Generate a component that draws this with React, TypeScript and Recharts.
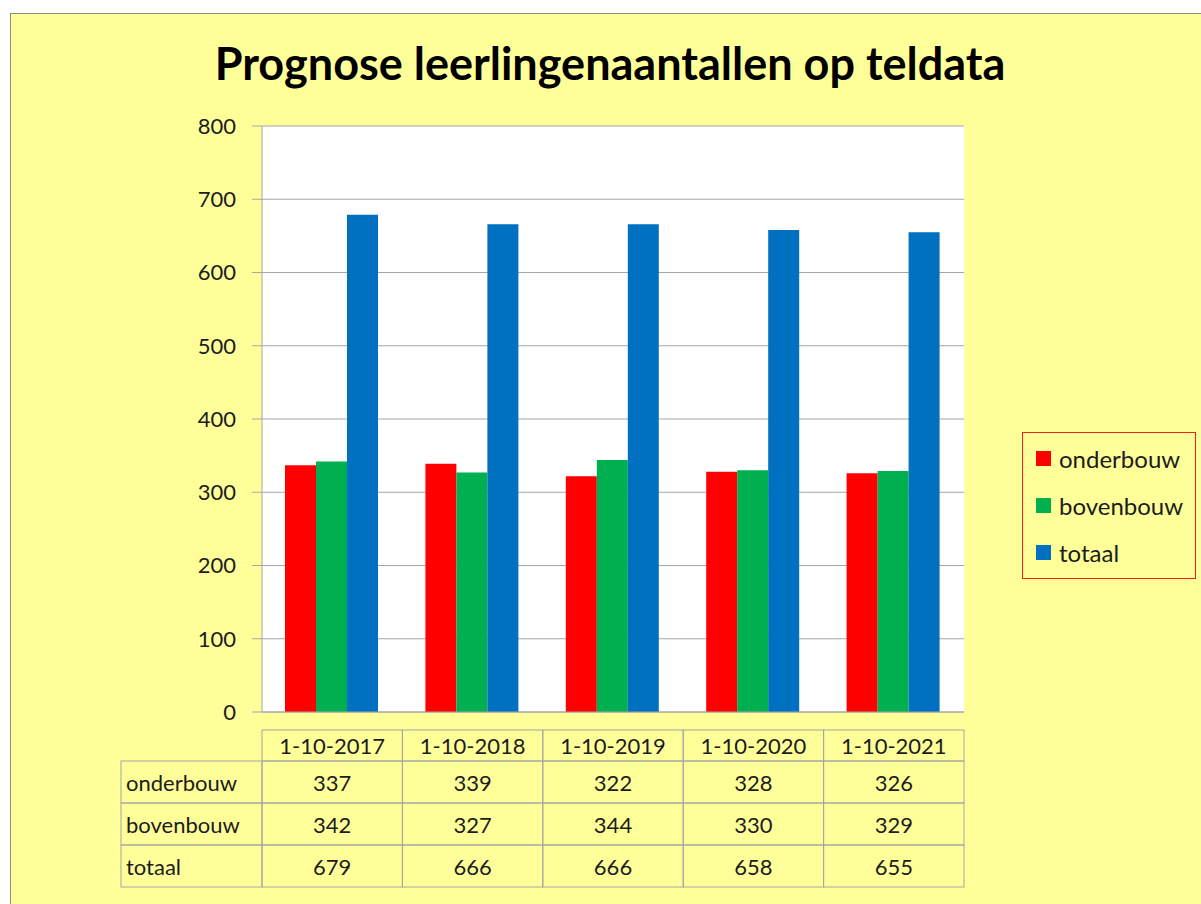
import React from 'react'
import { BarChart, Bar, XAxis, YAxis, CartesianGrid, Legend } from 'recharts'

const categories = ['1-10-2017', '1-10-2018', '1-10-2019', '1-10-2020', '1-10-2021']
const onderbouw = [337, 339, 322, 328, 326]
const bovenbouw = [342, 327, 344, 330, 329]
const totaal = [679, 666, 666, 658, 655]
const yTicks = [0, 100, 200, 300, 400, 500, 600, 700, 800]

const seriesList = [
  { key: 'onderbouw', values: onderbouw, color: '#FF0000' },
  { key: 'bovenbouw', values: bovenbouw, color: '#00B050' },
  { key: 'totaal', values: totaal, color: '#0070C0' },
]

const data = categories.map((date, i) => ({
  date,
  onderbouw: onderbouw[i],
  bovenbouw: bovenbouw[i],
  totaal: totaal[i],
}))

const W = 1201
const H = 904
const PLOT_LEFT = 262
const PLOT_RIGHT = 964
const PLOT_TOP = 126
const PLOT_BOTTOM = 712
const BAND = (PLOT_RIGHT - PLOT_LEFT) / categories.length
const TABLE_TOP = 730
const HEAD_H = 31
const ROW_H = 42
const LABEL_LEFT = 121
const FONT = 'Lato, "Open Sans", sans-serif'
const GRID = '#A6A6A6'
const TXT = '#1c1c1c'

// the x axis ticks draw the data table, one column per category
function TableTick(props: any) {
  const { x, payload } = props
  const i = payload.index
  const left = x - BAND / 2
  return (
    <g>
      {i === 0 &&
        seriesList.map((s, r) => (
          <g key={s.key}>
            <rect
              x={LABEL_LEFT}
              y={TABLE_TOP + HEAD_H + r * ROW_H}
              width={PLOT_LEFT - LABEL_LEFT}
              height={ROW_H}
              fill="none"
              stroke={GRID}
            />
            <text
              x={LABEL_LEFT + 5}
              y={TABLE_TOP + HEAD_H + r * ROW_H + ROW_H / 2}
              dominantBaseline="central"
              fontSize={22}
              fontFamily={FONT}
              fill={TXT}
            >
              {s.key}
            </text>
          </g>
        ))}
      <rect x={left} y={TABLE_TOP} width={BAND} height={HEAD_H} fill="none" stroke={GRID} />
      <text
        x={x}
        y={TABLE_TOP + HEAD_H / 2}
        textAnchor="middle"
        dominantBaseline="central"
        fontSize={22}
        fontFamily={FONT}
        fill={TXT}
      >
        {payload.value}
      </text>
      {seriesList.map((s, r) => (
        <g key={s.key}>
          <rect
            x={left}
            y={TABLE_TOP + HEAD_H + r * ROW_H}
            width={BAND}
            height={ROW_H}
            fill="none"
            stroke={GRID}
          />
          <text
            x={x}
            y={TABLE_TOP + HEAD_H + r * ROW_H + ROW_H / 2}
            textAnchor="middle"
            dominantBaseline="central"
            fontSize={22}
            fontFamily={FONT}
            fill={TXT}
          >
            {s.values[i]}
          </text>
        </g>
      ))}
    </g>
  )
}

function LegendBox({ payload }: any) {
  const items = seriesList.map((s) => (payload || []).find((p: any) => p.dataKey === s.key) || { value: s.key, color: s.color })
  return (
    <div
      style={{
        width: 172,
        height: 143,
        border: '1px solid #F02020',
        boxSizing: 'content-box',
        fontFamily: FONT,
        fontSize: 24,
        color: TXT,
        paddingTop: 2,
      }}
    >
      {items.map((p: any) => (
        <div key={p.value} style={{ display: 'flex', alignItems: 'center', height: 47, paddingLeft: 13 }}>
          <span style={{ width: 15, height: 15, background: p.color, marginRight: 8, display: 'inline-block' }} />
          <span>{p.value}</span>
        </div>
      ))}
    </div>
  )
}

export default function App() {
  return (
    <div style={{ position: 'absolute', left: 0, top: 0, width: W, height: H, background: '#fff', overflow: 'hidden' }}>
      <div
        style={{
          position: 'absolute',
          left: 10,
          top: 13,
          width: W,
          height: H,
          background: '#FFFF99',
          border: '1px solid #8c8c8c',
        }}
      />
      <div
        style={{
          position: 'absolute',
          left: 0,
          width: 1220,
          top: 36,
          textAlign: 'center',
          fontFamily: FONT,
          fontWeight: 700,
          fontSize: 45,
          color: '#000',
        }}
      >
        Prognose leerlingenaantallen op teldata
      </div>
      <div style={{ position: 'absolute', left: 0, top: 0 }}>
        <BarChart
          width={W}
          height={H}
          data={data}
          margin={{ top: PLOT_TOP, right: W - PLOT_RIGHT, left: 0, bottom: 0 }}
          barCategoryGap={23}
          barGap={0}
        >
          <CartesianGrid vertical={false} stroke={GRID} fill="#fff" />
          <XAxis
            dataKey="date"
            height={H - PLOT_BOTTOM}
            tickLine={false}
            axisLine={{ stroke: GRID }}
            interval={0}
            tick={<TableTick />}
          />
          <YAxis
            width={PLOT_LEFT}
            domain={[0, 800]}
            ticks={yTicks}
            tickSize={10}
            tickMargin={16}
            tickLine={{ stroke: GRID }}
            axisLine={{ stroke: GRID }}
            tick={{ fontSize: 22, fontFamily: FONT, fill: TXT }}
          />
          <Legend
            layout="vertical"
            align="center"
            verticalAlign="middle"
            wrapperStyle={{ left: 1022, top: 432, width: 174 }}
            content={<LegendBox />}
          />
          {seriesList.map((s) => (
            <Bar key={s.key} dataKey={s.key} fill={s.color} isAnimationActive={false} />
          ))}
        </BarChart>
      </div>
    </div>
  )
}
